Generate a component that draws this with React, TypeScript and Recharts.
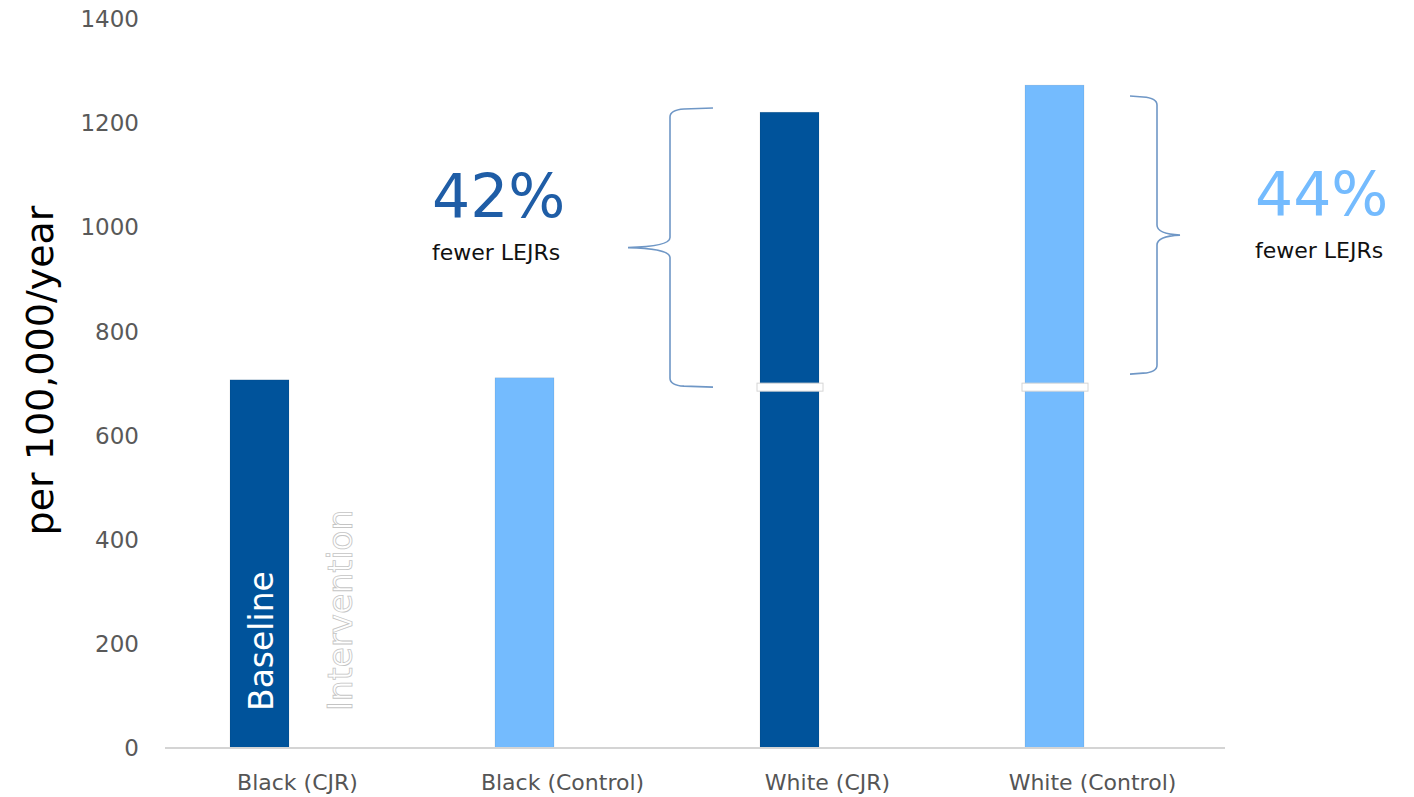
import React from "react";
import { BarChart, Bar, XAxis, YAxis, LabelList, ReferenceArea, Label } from "recharts";

// groups on the x axis
const groups = ["Black (CJR)", "Black (Control)", "White (CJR)", "White (Control)"];
// baseline rate per 100,000/year (the only visible series)
const baseline = [707, 711, 1221, 1273];
// intervention slot is drawn empty in the source slide
const intervention: (number | null)[] = [null, null, null, null];
// white break marks drawn across the white bars
const breakMarks: (number | null)[] = [null, null, 693, 693];
const barColors = ["#00539B", "#74BBFE", "#00539B", "#74BBFE"];
const yTicks = [0, 200, 400, 600, 800, 1000, 1200, 1400];

// brace annotations
const braceGroups = ["White (CJR)", "White (Control)"];
const braceFrom = [693, 718];
const braceTo = [1229, 1252];
const reductions = ["42%", "44%"];
const reductionColors = ["#1F5DA6", "#74BBFE"];

const FONT = "'DejaVu Sans', sans-serif";
const BRACE = "#6F97C6";

const data = groups.map((g, i) => ({
  group: g,
  baseline: baseline[i],
  intervention: intervention[i],
}));

function bracePath(xEnd: number, xSpine: number, xTip: number, yTop: number, yBot: number) {
  const d = Math.sign(xEnd - xSpine);
  const yMid = (yTop + yBot) / 2;
  return [
    `M ${xEnd} ${yTop}`,
    `L ${xSpine + d * 14} ${yTop + 1}`,
    `Q ${xSpine} ${yTop + 2} ${xSpine} ${yTop + 9}`,
    `L ${xSpine} ${yMid - 10}`,
    `Q ${xSpine} ${yMid - 1} ${xTip} ${yMid}`,
    `Q ${xSpine} ${yMid + 1} ${xSpine} ${yMid + 10}`,
    `L ${xSpine} ${yBot - 9}`,
    `Q ${xSpine} ${yBot - 2} ${xSpine + d * 14} ${yBot - 1}`,
    `L ${xEnd} ${yBot}`,
  ].join(" ");
}

function BarShape(props: any) {
  const { x, y, width, height, index } = props;
  const mark = breakMarks[index];
  const v = baseline[index];
  let markEl = null;
  if (mark != null && height > 0) {
    const my = y + height - height * (mark / v);
    markEl = (
      <rect x={x - 3} y={my - 4} width={width + 7} height={8} fill="#fff" stroke="#D6D6D6" strokeWidth={1} />
    );
  }
  return (
    <g>
      <rect x={x} y={y} width={width} height={height} fill={barColors[index]} stroke="rgba(0,0,0,0.12)" strokeWidth={0.6} />
      {markEl}
    </g>
  );
}

function SlotLabels(props: any) {
  const { x, y, width, height, index } = props;
  if (index !== 0) return null;
  const bottom = y + height - 37;
  const bx = x + width - 16;
  const ix = x + width + 63;
  return (
    <g fontFamily={FONT} fontSize={33}>
      <text x={bx} y={bottom} transform={`rotate(-90 ${bx} ${bottom})`} fill="#fff">
        Baseline
      </text>
      <text x={ix} y={bottom} transform={`rotate(-90 ${ix} ${bottom})`} fill="#fff" stroke="#C4C4C4" strokeWidth={0.8}>
        Intervention
      </text>
    </g>
  );
}

function LeftBrace(props: any) {
  const { x, y, height } = props;
  const yMid = y + height / 2;
  const tip = x - 67;
  return (
    <g>
      <path d={bracePath(x + 18, x - 25, tip, y, y + height)} fill="none" stroke={BRACE} strokeWidth={1.6} />
      <text x={tip - 196} y={yMid - 31} fontFamily={FONT} fontSize={60} fill={reductionColors[0]}>
        {reductions[0]}
      </text>
      <text x={tip - 196} y={yMid + 12} fontFamily={FONT} fontSize={22} fill="#111">
        fewer LEJRs
      </text>
    </g>
  );
}

function RightBrace(props: any) {
  const { x, y, height } = props;
  const yMid = y + height / 2;
  const tip = x + 220;
  return (
    <g>
      <path d={bracePath(x + 170, x + 197, tip, y, y + height)} fill="none" stroke={BRACE} strokeWidth={1.6} />
      <text x={tip + 75} y={yMid - 20} fontFamily={FONT} fontSize={60} fill={reductionColors[1]}>
        {reductions[1]}
      </text>
      <text x={tip + 75} y={yMid + 23} fontFamily={FONT} fontSize={22} fill="#111">
        fewer LEJRs
      </text>
    </g>
  );
}

function YTitle(props: any) {
  const vb = props.viewBox || {};
  const cx = 53;
  const cy = (vb.y ?? 19) + (vb.height ?? 729) / 2 - 13;
  return (
    <text
      x={cx}
      y={cy}
      transform={`rotate(-90 ${cx} ${cy})`}
      textAnchor="middle"
      fontFamily={FONT}
      fontSize={38}
      fill="#000"
    >
      per 100,000/year
    </text>
  );
}

export default function App() {
  return (
    <div style={{ position: "absolute", left: 0, top: 0, width: 1414, height: 797 }}>
      <BarChart
        width={1414}
        height={797}
        data={data}
        margin={{ top: 19, right: 189, bottom: 0, left: 0 }}
        barSize={59}
        barGap={18}
      >
        <XAxis
          dataKey="group"
          height={49}
          tickLine={false}
          tickSize={0}
          tickMargin={26}
          axisLine={{ stroke: "#D4D4D4", strokeWidth: 2 }}
          tick={{ fontFamily: FONT, fontSize: 22, fill: "#555" }}
          interval={0}
        />
        <YAxis
          width={165}
          domain={[0, 1400]}
          ticks={yTicks}
          tickLine={false}
          axisLine={false}
          tickSize={0}
          tickMargin={26}
          tick={{ fontFamily: FONT, fontSize: 23, fill: "#595959" }}
        >
          <Label content={<YTitle />} />
        </YAxis>
        <Bar dataKey="baseline" isAnimationActive={false} shape={<BarShape />}>
          <LabelList dataKey="baseline" content={<SlotLabels />} />
        </Bar>
        <Bar dataKey="intervention" fill="#fff" isAnimationActive={false} />
        <ReferenceArea
          x1={braceGroups[0]}
          x2={braceGroups[0]}
          y1={braceFrom[0]}
          y2={braceTo[0]}
          ifOverflow="visible"
          shape={<LeftBrace />}
        />
        <ReferenceArea
          x1={braceGroups[1]}
          x2={braceGroups[1]}
          y1={braceFrom[1]}
          y2={braceTo[1]}
          ifOverflow="visible"
          shape={<RightBrace />}
        />
      </BarChart>
    </div>
  );
}
